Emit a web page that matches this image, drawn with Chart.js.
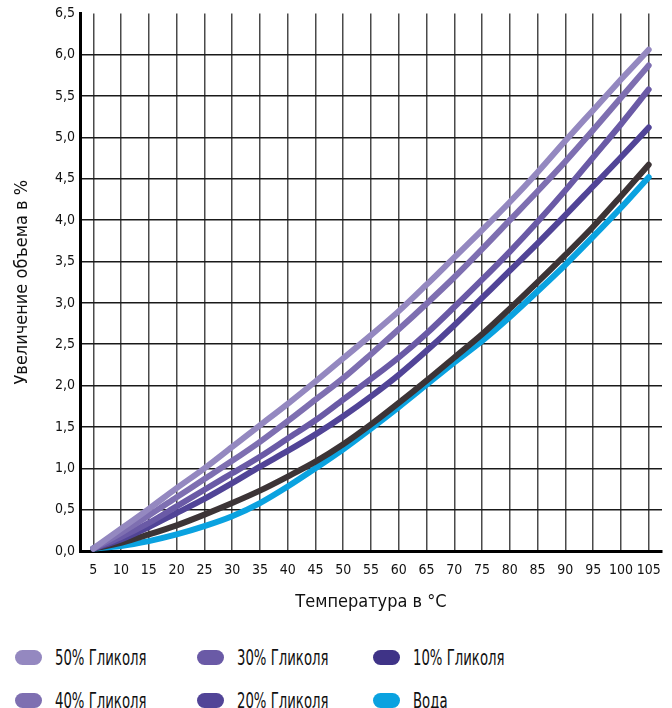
<!DOCTYPE html>
<html>
<head>
<meta charset="utf-8">
<script src="https://cdn.jsdelivr.net/npm/chart.js@4/dist/chart.umd.min.js"></script>
<style>
  body { margin: 0; background: #fff; }
  #wrap { position: relative; width: 672px; height: 625px; }
  #legend {
    display: grid;
    grid-template-columns: 182px 176px 1fr;
    grid-auto-rows: 43px;
    padding-left: 15px;
    margin-top: 11px;
    font-family: 'DejaVu Sans Condensed', 'Liberation Sans', sans-serif;
    font-size: 22px;
    color: #111;
  }
  .item { display: flex; align-items: center; }
  .pill { width: 27px; height: 15px; border-radius: 8px; margin-right: 13px; flex: none; }
  .label { display: inline-block; transform: scaleX(0.67); transform-origin: left center; white-space: nowrap; }
</style>
</head>
<body>
<div id="wrap"><canvas id="chart"></canvas></div>
<div id="legend"></div>
<script>
const FONT = "'DejaVu Sans Condensed', 'Liberation Sans', sans-serif";

// temperatures, °C
const temps = [5, 10, 15, 20, 25, 30, 35, 40, 45, 50, 55, 60, 65, 70, 75, 80, 85, 90, 95, 100, 105];

// volume increase, %
const glycol50 = [0.03, 0.27, 0.51, 0.76, 1.0, 1.26, 1.52, 1.78, 2.05, 2.33, 2.61, 2.9, 3.22, 3.55, 3.88, 4.22, 4.58, 4.96, 5.33, 5.7, 6.06];
const glycol40 = [0.03, 0.22, 0.43, 0.65, 0.87, 1.09, 1.32, 1.57, 1.83, 2.09, 2.38, 2.68, 2.99, 3.31, 3.65, 4.0, 4.35, 4.71, 5.09, 5.48, 5.87];
const glycol30 = [0.03, 0.17, 0.34, 0.54, 0.74, 0.94, 1.14, 1.36, 1.58, 1.83, 2.08, 2.34, 2.63, 2.95, 3.28, 3.62, 3.98, 4.36, 4.76, 5.16, 5.58];
const glycol20 = [0.03, 0.14, 0.29, 0.46, 0.63, 0.82, 1.02, 1.21, 1.41, 1.63, 1.87, 2.13, 2.42, 2.73, 3.06, 3.39, 3.72, 4.06, 4.41, 4.76, 5.12];
const glycol10 = [0.03, 0.1, 0.2, 0.31, 0.44, 0.58, 0.73, 0.9, 1.08, 1.29, 1.53, 1.79, 2.06, 2.34, 2.62, 2.93, 3.25, 3.58, 3.92, 4.29, 4.67];
const water    = [0.03, 0.06, 0.12, 0.2, 0.3, 0.42, 0.58, 0.78, 1.0, 1.23, 1.48, 1.74, 2.01, 2.28, 2.54, 2.83, 3.14, 3.46, 3.8, 4.15, 4.52];

const seriesNames = ['50% Гликоля', '40% Гликоля', '30% Гликоля', '20% Гликоля', '10% Гликоля', 'Вода'];
const seriesData = [glycol50, glycol40, glycol30, glycol20, glycol10, water];
const lineColors = ['#9488c0', '#7e6fb1', '#6a5aa6', '#514497', '#3c3436', '#0aa2e0'];
const legendColors = ['#9488c0', '#7e6fb1', '#6a5aa6', '#514497', '#3f3387', '#0aa2e0'];
// legend rows: 50 / 30 / 10, then 40 / 20 / Вода
const legendOrder = [0, 2, 4, 1, 3, 5];

const yTicks = [0, 0.5, 1, 1.5, 2, 2.5, 3, 3.5, 4, 4.5, 5, 5.5, 6, 6.5];

const datasets = seriesNames.map((name, i) => ({
  label: name,
  data: temps.map((t, j) => ({ x: t, y: seriesData[i][j] })),
  borderColor: lineColors[i],
  borderWidth: 6,
  borderCapStyle: 'round',
  pointRadius: 0,
  cubicInterpolationMode: 'monotone',
  fill: false,
  clip: 8
}));

new Chart(document.getElementById('chart'), {
  type: 'line',
  data: { datasets: datasets },
  options: {
    responsive: true,
    maintainAspectRatio: false,
    animation: false,
    layout: { padding: { left: 0, top: 12, right: 10, bottom: 0 } },
    plugins: { legend: { display: false }, tooltip: { enabled: false } },
    scales: {
      x: {
        type: 'linear',
        min: 2.6,
        max: 107.4,
        afterFit: function (scale) { scale.height = 74; },
        ticks: {
          stepSize: 5,
          includeBounds: false,
          autoSkip: false,
          maxRotation: 0,
          color: '#111',
          font: { family: FONT, size: 14 },
          padding: 11
        },
        grid: { color: '#4a4a4a', lineWidth: 1.5, drawTicks: false },
        border: { color: '#000', width: 3 },
        title: {
          display: true,
          text: 'Температура в °C',
          color: '#111',
          font: { family: FONT, size: 18 },
          padding: { top: 0, bottom: 12 }
        }
      },
      y: {
        min: 0,
        max: 6.5,
        afterFit: function (scale) { scale.width = 80; },
        afterBuildTicks: function (scale) { scale.ticks = yTicks.map(v => ({ value: v })); },
        ticks: {
          color: '#111',
          font: { family: FONT, size: 14 },
          padding: 5,
          callback: function (value) { return value.toFixed(1).replace('.', ','); }
        },
        grid: {
          color: ctx => ctx.tick && ctx.tick.value >= 6.5 ? 'rgba(0,0,0,0)' : '#1a1a1a',
          lineWidth: 1.5,
          drawTicks: false
        },
        border: { color: '#000', width: 3 },
        title: {
          display: true,
          text: 'Увеличение объема в %',
          color: '#111',
          font: { family: FONT, size: 18 },
          padding: { top: 12, bottom: 0 }
        }
      }
    }
  }
});

// legend below the chart
const legendBox = document.getElementById('legend');
legendOrder.forEach(function (i) {
  const item = document.createElement('div');
  item.className = 'item';
  const pill = document.createElement('span');
  pill.className = 'pill';
  pill.style.background = legendColors[i];
  const text = document.createElement('span');
  text.className = 'label';
  text.textContent = seriesNames[i];
  item.appendChild(pill);
  item.appendChild(text);
  legendBox.appendChild(item);
});
</script>
</body>
</html>
